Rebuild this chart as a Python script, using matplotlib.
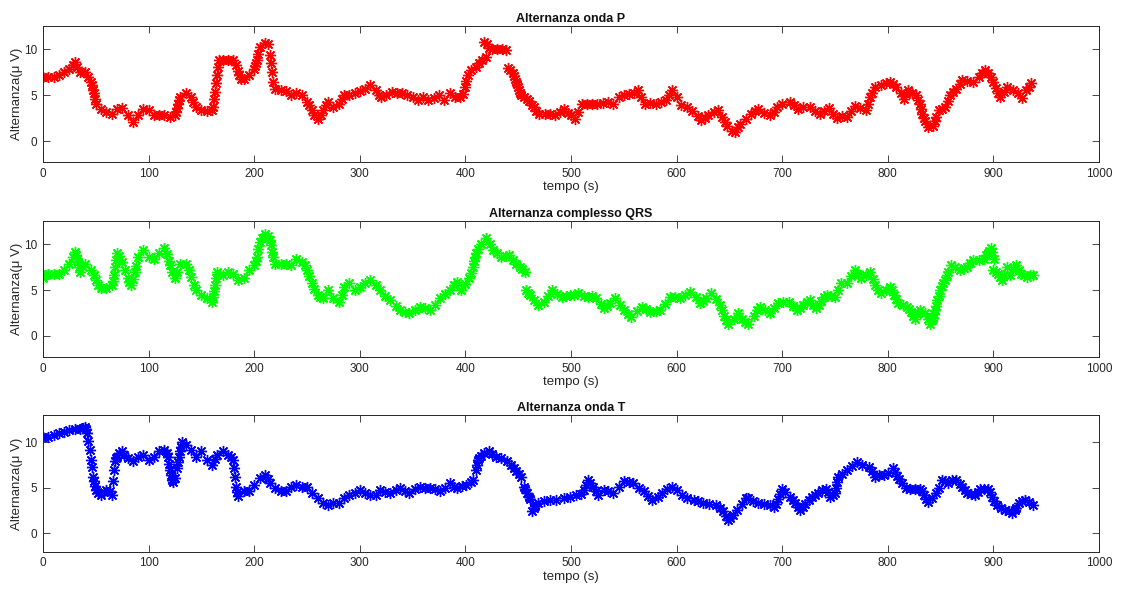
import numpy as np
import matplotlib.pyplot as plt

plt.rcParams['font.family'] = ['Liberation Sans', 'DejaVu Sans']

# (tempo s, alternanza uV)
onda_p = [(0, 7.0), (5, 7.0), (10, 7.0), (15, 7.2), (20, 7.5), (25, 7.9), (28, 8.3), (30, 8.65), (32, 8.1), (35, 7.5),
          (40, 7.5), (43, 7.0), (45, 6.5), (46, 6.1), (47, 5.6), (48, 5.2), (49, 4.6), (50, 4.1), (55, 3.5), (60, 3.2),
          (65, 3.0), (70, 3.5), (75, 3.65), (80, 2.8), (85, 2.1), (90, 2.8), (95, 3.55), (100, 3.4), (105, 2.8), (110, 2.8),
          (115, 2.8), (120, 2.6), (125, 2.8), (126, 3.2), (127, 3.6), (128, 4.1), (129, 4.5), (130, 4.8), (135, 5.25), (140, 4.8),
          (142, 4.3), (145, 3.7), (150, 3.35), (155, 3.3), (160, 3.35), (161, 3.7), (162, 4.6), (163, 5.35), (164, 6.3), (165, 7.2),
          (166, 8.1), (167, 8.8), (170, 8.9), (175, 8.85), (180, 8.85), (183, 8.3), (185, 7.7), (186, 7.2), (187, 6.8), (190, 6.8),
          (195, 7.2), (200, 7.9), (201, 8.2), (202, 8.5), (203, 8.8), (204, 9.5), (205, 10.3), (210, 10.7), (213, 10.65), (215, 9.4),
          (216, 8.5), (217, 7.55), (218, 6.45), (220, 5.7), (225, 5.55), (230, 5.5), (235, 5.0), (240, 5.2), (245, 5.0), (250, 4.3),
          (252, 3.9), (255, 3.35), (257, 2.9), (260, 2.45), (263, 2.9), (265, 3.35), (268, 3.9), (270, 4.3), (275, 3.7), (280, 4.1),
          (283, 4.6), (285, 5.0), (290, 5.0), (295, 5.2), (300, 5.5), (305, 5.7), (310, 6.1), (315, 5.55), (318, 5.0), (320, 4.8),
          (325, 5.0), (330, 5.35), (335, 5.2), (340, 5.25), (345, 5.0), (350, 4.8), (355, 4.45), (360, 4.8), (365, 4.45), (370, 4.75),
          (375, 5.0), (380, 4.45), (385, 5.2), (390, 4.8), (395, 4.8), (398, 5.1), (400, 5.9), (401, 6.6), (402, 7.2), (405, 7.75),
          (410, 8.1), (413, 8.5), (416, 8.9), (418, 10.8), (419, 9.2), (420, 10.6), (422, 10.2), (425, 10.1), (430, 10.1), (435, 10.0),
          (438, 9.9), (440, 8.0), (442, 7.8), (445, 7.4), (446, 7.1), (447, 6.8), (448, 6.5), (449, 6.2), (450, 5.9), (451, 5.6),
          (452, 5.3), (453, 5.0), (455, 4.8), (458, 4.6), (460, 4.4), (463, 3.9), (465, 3.7), (467, 3.3), (470, 3.0), (475, 3.0),
          (480, 2.95), (485, 2.9), (490, 3.2), (493, 3.5), (497, 3.1), (500, 2.8), (504, 2.45), (507, 3.2), (510, 4.0), (515, 4.1),
          (520, 4.1), (525, 4.0), (530, 4.2), (535, 4.3), (540, 4.0), (545, 4.8), (550, 5.0), (555, 5.1), (560, 5.3), (563, 5.55),
          (566, 4.8), (570, 4.1), (575, 4.2), (580, 4.1), (585, 4.3), (590, 4.5), (593, 5.0), (596, 5.55), (600, 4.8), (604, 3.9),
          (610, 3.7), (615, 3.3), (620, 2.7), (623, 2.25), (627, 2.5), (630, 2.8), (635, 3.2), (639, 3.35), (643, 2.6), (646, 2.1),
          (648, 1.7), (652, 1.1), (655, 1.0), (658, 1.5), (660, 1.9), (666, 2.45), (670, 3.0), (674, 3.3), (677, 3.55), (683, 3.1),
          (688, 2.8), (692, 3.2), (695, 3.7), (700, 4.0), (707, 4.25), (711, 3.9), (715, 3.55), (720, 3.7), (726, 3.7), (731, 3.3),
          (736, 3.0), (740, 3.3), (744, 3.65), (748, 3.0), (752, 2.55), (757, 2.7), (761, 2.6), (765, 3.3), (769, 3.8), (774, 3.6),
          (779, 3.35), (781, 4.0), (783, 4.8), (785, 5.3), (788, 5.9), (794, 6.1), (798, 6.3), (802, 6.45), (805, 6.2), (808, 5.9),
          (812, 5.3), (815, 4.65), (817, 5.1), (819, 5.6), (823, 5.3), (827, 5.0), (829, 4.5), (830, 4.0), (831, 3.5), (832, 3.0),
          (834, 2.5), (835, 2.2), (838, 1.55), (843, 1.7), (845, 2.2), (846, 2.6), (848, 3.35), (851, 3.5), (854, 3.7), (857, 4.4),
          (859, 5.0), (862, 5.4), (865, 5.7), (868, 6.2), (870, 6.65), (875, 6.6), (881, 6.45), (886, 7.0), (889, 7.4), (892, 7.75),
          (895, 7.4), (898, 7.0), (900, 6.4), (902, 5.8), (904, 5.2), (906, 4.8), (910, 5.4), (913, 5.9), (919, 5.6), (923, 5.2),
          (927, 4.75), (931, 5.55), (934, 5.9), (936, 6.3)]

complesso_qrs = [(0, 6.3), (3, 6.6), (5, 6.8), (10, 6.8), (15, 6.8), (20, 7.2), (25, 7.9), (28, 8.6), (30, 9.2), (31, 8.8),
                 (32, 8.4), (33, 8.1), (34, 7.5), (35, 7.0), (38, 7.5), (40, 7.9), (45, 7.2), (48, 6.6), (50, 6.1), (52, 5.6),
                 (55, 5.2), (60, 5.2), (65, 5.55), (66, 6.0), (67, 6.65), (68, 7.5), (69, 8.3), (70, 9.0), (72, 8.7), (75, 8.1),
                 (78, 7.2), (80, 6.3), (81, 5.9), (83, 5.55), (85, 6.2), (87, 7.0), (88, 7.6), (90, 8.65), (95, 9.4), (100, 8.65),
                 (105, 8.45), (110, 9.0), (115, 9.6), (117, 8.9), (119, 8.2), (120, 7.75), (122, 7.0), (125, 6.3), (127, 7.0), (130, 7.9),
                 (135, 7.9), (138, 7.2), (140, 6.45), (143, 5.6), (145, 5.0), (150, 4.45), (155, 4.1), (160, 3.7), (161, 4.3), (162, 4.9),
                 (163, 5.55), (164, 6.3), (165, 7.0), (170, 6.65), (175, 7.0), (180, 6.8), (185, 6.1), (190, 6.3), (195, 7.2), (200, 7.75),
                 (202, 8.2), (203, 8.65), (204, 9.5), (205, 10.3), (207, 10.7), (210, 11.1), (213, 10.9), (215, 10.5), (216, 9.9), (217, 9.2),
                 (218, 8.65), (220, 7.9), (225, 7.9), (230, 7.9), (235, 7.75), (240, 8.45), (245, 8.1), (248, 7.7), (250, 7.2), (252, 6.5),
                 (255, 5.75), (257, 5.1), (260, 4.45), (262, 4.3), (265, 4.1), (270, 5.0), (275, 4.1), (280, 3.7), (283, 4.5), (285, 5.35),
                 (290, 5.75), (295, 5.0), (300, 5.35), (305, 5.75), (310, 6.1), (315, 5.55), (319, 5.0), (324, 4.4), (329, 3.9), (334, 3.3),
                 (338, 2.8), (343, 2.6), (347, 2.45), (352, 2.8), (357, 3.2), (362, 3.0), (366, 2.8), (371, 3.4), (376, 4.1), (381, 4.6),
                 (385, 5.0), (389, 5.6), (392, 5.9), (396, 5.0), (400, 5.7), (403, 6.3), (405, 6.9), (407, 7.55), (408, 8.2), (409, 8.6),
                 (410, 9.0), (412, 9.5), (415, 10.0), (419, 10.65), (423, 10.0), (426, 9.4), (430, 9.0), (434, 8.65), (438, 8.7), (441, 8.85),
                 (445, 8.3), (448, 7.9), (452, 7.5), (454, 7.3), (456, 7.0), (457, 5.0), (459, 4.7), (461, 4.45), (465, 3.9), (469, 3.35),
                 (474, 3.7), (478, 4.4), (482, 5.0), (487, 4.6), (491, 4.25), (495, 4.4), (499, 4.45), (503, 4.5), (507, 4.65), (512, 4.4),
                 (516, 4.25), (520, 4.4), (524, 4.1), (528, 3.5), (531, 3.0), (534, 3.3), (537, 3.6), (542, 4.1), (546, 3.4), (550, 2.8),
                 (554, 2.4), (557, 2.1), (562, 2.7), (567, 3.2), (571, 2.9), (575, 2.6), (580, 2.7), (584, 2.8), (589, 3.5), (594, 4.25),
                 (598, 4.2), (603, 4.1), (608, 4.5), (613, 4.8), (618, 4.2), (622, 3.55), (625, 3.8), (628, 4.1), (633, 4.65), (637, 4.0),
                 (641, 3.35), (643, 2.8), (645, 2.2), (647, 1.7), (649, 1.35), (654, 1.9), (658, 2.45), (662, 1.8), (665, 1.5), (668, 1.35),
                 (673, 2.2), (676, 2.8), (679, 3.2), (684, 2.8), (688, 2.45), (692, 3.0), (696, 3.55), (701, 3.7), (706, 3.7), (710, 3.3),
                 (714, 2.8), (717, 3.1), (720, 3.4), (723, 3.7), (726, 3.9), (729, 3.4), (732, 3.0), (735, 3.4), (737, 3.8), (740, 4.2),
                 (742, 4.45), (746, 4.4), (750, 4.25), (753, 5.0), (756, 5.75), (761, 5.75), (765, 6.5), (769, 7.2), (772, 6.8), (775, 6.3),
                 (779, 6.6), (783, 7.0), (786, 6.2), (788, 5.55), (791, 5.0), (794, 4.65), (798, 5.0), (802, 5.35), (804, 5.0), (806, 4.5),
                 (808, 4.0), (810, 3.55), (814, 3.4), (818, 3.2), (820, 2.9), (822, 2.6), (824, 2.2), (826, 1.9), (828, 2.4), (830, 2.8),
                 (835, 2.45), (838, 1.8), (840, 1.35), (842, 1.7), (843, 2.0), (844, 2.4), (845, 2.8), (846, 3.3), (847, 3.9), (848, 4.4),
                 (849, 5.0), (851, 5.5), (852, 5.8), (854, 6.1), (856, 6.6), (857, 7.0), (860, 7.75), (864, 7.5), (868, 7.2), (872, 7.4),
                 (875, 7.55), (878, 8.0), (881, 8.3), (886, 8.3), (891, 8.45), (893, 8.8), (895, 9.0), (896, 9.3), (898, 9.55), (899, 9.2),
                 (901, 8.45), (900, 7.2), (902, 7.0), (904, 6.8), (906, 6.4), (908, 6.1), (910, 6.7), (913, 7.55), (916, 6.65), (919, 7.3),
                 (921, 7.75), (924, 7.2), (926, 6.8), (929, 6.6), (932, 6.45), (935, 6.6), (937, 6.65)]

onda_t = [(0, 10.6), (5, 10.6), (10, 10.8), (15, 11.05), (20, 11.15), (25, 11.3), (30, 11.4), (35, 11.4), (38, 11.5), (40, 11.7),
          (41, 11.4), (42, 11.0), (43, 10.1), (44, 9.15), (45, 8.05), (46, 7.3), (47, 6.2), (48, 5.7), (49, 5.2), (50, 4.75),
          (52, 4.4), (55, 4.2), (58, 4.5), (60, 4.75), (63, 4.6), (65, 4.2), (66, 5.7), (67, 6.95), (68, 7.9), (69, 8.2),
          (70, 8.4), (72, 8.8), (75, 9.0), (77, 8.6), (80, 8.25), (85, 7.9), (90, 8.4), (95, 8.6), (100, 8.05), (105, 8.4),
          (110, 9.0), (115, 9.15), (117, 8.8), (118, 8.4), (119, 7.6), (120, 6.95), (121, 6.4), (122, 5.85), (123, 5.6), (125, 6.05),
          (127, 7.15), (128, 7.8), (129, 8.4), (130, 9.0), (131, 9.5), (132, 10.05), (135, 9.7), (140, 9.15), (145, 8.4), (150, 9.0),
          (155, 8.05), (160, 7.5), (163, 8.1), (165, 8.6), (170, 9.0), (175, 8.6), (178, 8.4), (180, 8.05), (181, 7.15), (182, 6.2),
          (183, 5.1), (184, 4.5), (185, 4.05), (190, 4.6), (195, 4.6), (200, 5.3), (205, 6.05), (210, 6.4), (213, 6.0), (215, 5.5),
          (220, 4.95), (225, 4.6), (230, 4.6), (235, 5.1), (240, 5.3), (245, 5.1), (250, 5.1), (255, 4.4), (260, 3.85), (265, 3.3),
          (270, 3.1), (275, 3.3), (280, 3.3), (285, 3.85), (290, 4.2), (295, 4.4), (300, 4.75), (305, 4.4), (310, 4.2), (315, 4.2),
          (319, 4.75), (324, 4.5), (329, 4.4), (334, 4.7), (338, 4.95), (343, 4.6), (347, 4.4), (352, 4.8), (357, 5.1), (362, 5.0),
          (366, 4.95), (371, 4.8), (376, 4.6), (381, 5.0), (385, 5.5), (389, 5.1), (392, 4.95), (397, 5.2), (401, 5.3), (405, 5.6),
          (407, 5.85), (410, 6.95), (411, 7.5), (412, 8.05), (413, 8.3), (415, 8.5), (418, 8.8), (422, 9.0), (425, 8.7), (429, 8.4),
          (434, 8.2), (439, 7.9), (443, 7.5), (446, 7.1), (448, 6.8), (451, 6.5), (453, 6.2), (455, 5.1), (456, 4.8), (458, 4.4),
          (460, 4.0), (461, 3.7), (463, 2.4), (465, 2.8), (466, 3.0), (469, 3.3), (474, 3.5), (480, 3.65), (486, 3.6), (493, 3.85),
          (499, 4.0), (505, 4.2), (509, 4.3), (512, 4.75), (514, 5.3), (516, 5.85), (518, 5.5), (521, 5.1), (524, 4.6), (526, 4.2),
          (531, 4.75), (535, 4.6), (540, 4.4), (545, 5.1), (550, 5.7), (555, 5.6), (559, 5.5), (564, 5.0), (569, 4.6), (573, 4.1),
          (577, 3.65), (582, 4.0), (586, 4.4), (591, 4.8), (596, 5.1), (600, 4.7), (605, 4.2), (610, 3.9), (616, 3.65), (620, 3.5),
          (625, 3.3), (631, 3.2), (637, 3.1), (641, 2.8), (644, 2.4), (647, 1.9), (649, 1.45), (651, 1.7), (653, 2.0), (657, 2.55),
          (662, 3.2), (666, 3.85), (668, 3.85), (672, 3.5), (677, 3.3), (683, 3.2), (688, 3.1), (692, 2.9), (694, 3.2), (696, 3.7),
          (698, 4.3), (700, 4.9), (703, 4.5), (707, 4.0), (710, 3.6), (712, 3.3), (715, 2.9), (717, 2.55), (720, 2.9), (722, 3.2),
          (725, 3.6), (728, 4.0), (731, 4.2), (734, 4.4), (738, 4.7), (741, 4.9), (743, 4.5), (745, 4.0), (748, 4.2), (750, 4.4),
          (751, 5.0), (752, 5.6), (753, 6.2), (757, 6.5), (761, 6.95), (766, 7.4), (771, 7.85), (776, 7.5), (782, 7.3), (785, 6.8),
          (788, 6.2), (792, 6.4), (796, 6.4), (800, 6.6), (805, 7.1), (807, 6.7), (809, 6.3), (811, 5.9), (813, 5.5), (817, 5.0),
          (821, 4.9), (826, 4.8), (830, 4.9), (832, 4.6), (834, 4.2), (836, 3.8), (838, 3.45), (842, 3.9), (846, 4.4), (848, 5.0),
          (851, 5.85), (854, 5.7), (857, 5.5), (861, 5.8), (865, 5.85), (868, 5.4), (870, 5.1), (873, 4.7), (875, 4.4), (879, 4.3),
          (883, 4.2), (885, 4.5), (887, 4.9), (891, 4.8), (895, 4.9), (897, 4.5), (899, 4.0), (901, 3.5), (903, 3.1), (907, 2.8),
          (911, 2.55), (915, 2.4), (918, 2.2), (920, 2.5), (921, 2.8), (924, 3.3), (927, 3.5), (930, 3.65), (934, 3.4), (937, 3.1)]

titles = ['Alternanza onda P', 'Alternanza complesso QRS', 'Alternanza onda T']
colors = ['#ff0000', '#00ff00', '#0000ff']
ylims = [(-2.3, 12.55), (-2.3, 12.55), (-2.05, 12.95)]
# axes boxes in figure fractions: left, bottom, width, height
boxes = [[0.0384, 0.727, 0.942, 0.229],
         [0.0384, 0.399, 0.942, 0.229],
         [0.0384, 0.071, 0.942, 0.230]]

fig = plt.figure(figsize=(11.21, 5.94), dpi=100)
for pts, title, col, yl, box in zip([onda_p, complesso_qrs, onda_t], titles, colors, ylims, boxes):
    t, v = zip(*pts)
    ax = fig.add_axes(box)
    # asterisk markers only, no connecting line
    ax.plot(t, v, linestyle='none', marker=(8, 2, 0), color=col,
            markersize=8, markeredgewidth=1.0)
    ax.set_xlim(0, 1000)
    ax.set_ylim(*yl)
    ax.set_xticks(np.arange(0, 1001, 100))
    ax.set_yticks([0, 5, 10])
    ax.tick_params(direction='in', top=True, right=True, length=5, width=0.6,
                   labelsize=8.5, colors='#262626', pad=4)
    for s in ax.spines.values():
        s.set_linewidth(0.7)
        s.set_color('#262626')
    ax.set_title(title, fontsize=9, fontweight='bold', pad=3, color='#111111')
    ax.set_xlabel('tempo (s)', fontsize=9.5, labelpad=1, color='#262626')
    ax.set_ylabel('Alternanza(μ V)', fontsize=9.5, labelpad=1, color='#262626')

fig.savefig('out.png', dpi=100)
